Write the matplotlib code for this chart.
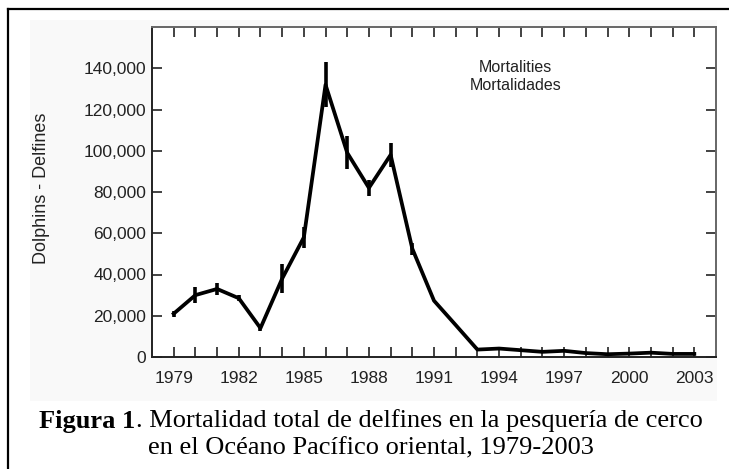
import matplotlib.pyplot as plt
from matplotlib.patches import Rectangle
from matplotlib.lines import Line2D
from matplotlib.ticker import FuncFormatter

years = list(range(1979, 2004))
mortality = [21000, 30000, 33000, 28500, 14000, 38000, 58000, 132000, 99000,
             82000, 98000, 52500, 27300, 15500, 3600, 4100, 3300, 2500, 3000,
             1900, 1350, 1650, 2100, 1500, 1500]
error = [1500, 3800, 3000, 1500, 1500, 7000, 5000, 11000, 8000, 4000, 6000,
         3000, 0, 0, 0, 0, 0, 0, 0, 0, 0, 0, 0, 0, 0]
label_years = list(range(1979, 2004, 3))

sans = ['Liberation Sans', 'DejaVu Sans']
serif = ['Liberation Serif', 'DejaVu Serif']

fig = plt.figure(figsize=(7.29, 4.69), dpi=100)
W, H = 729, 469

# faint background of the pasted chart image
fig.patches.append(Rectangle((30 / W, 1 - 401 / H), (717 - 30) / W, (401 - 20) / H,
                             transform=fig.transFigure, facecolor='#f9f9f9',
                             edgecolor='none', zorder=-5))
# outer border (top and left)
fig.lines.append(Line2D([8 / W, 1], [1 - 9 / H, 1 - 9 / H], transform=fig.transFigure,
                        color='black', lw=1.6))
fig.lines.append(Line2D([8 / W, 8 / W], [0, 1 - 9 / H], transform=fig.transFigure,
                        color='black', lw=1.6))

ax = fig.add_axes([152 / W, 1 - 357 / H, (716 - 152) / W, (357 - 27) / H])
ax.set_facecolor('white')
ax.errorbar(years, mortality, yerr=error, color='black', lw=2.7, elinewidth=2.6,
            capsize=0, zorder=3)

ax.set_xlim(1978, 2004)
ax.set_ylim(0, 160000)
ax.set_xticks(years)
ax.set_xticklabels([str(y) if y in label_years else '' for y in years])
ax.set_yticks(range(0, 160000, 20000))
ax.yaxis.set_major_formatter(FuncFormatter(lambda v, p: f'{int(v):,}'))
ax.tick_params(direction='in', length=7, width=1.2, top=True, right=True,
               labelsize=12.5, colors='#222222', pad=10)
ax.tick_params(axis='y', pad=4)
for lab in ax.get_xticklabels() + ax.get_yticklabels():
    lab.set_family(sans)
for side in ['left', 'bottom']:
    ax.spines[side].set_linewidth(1.4)
    ax.spines[side].set_color('#222222')
for side in ['top', 'right']:
    ax.spines[side].set_linewidth(1.4)
    ax.spines[side].set_color('#666666')

ax.set_ylabel('Dolphins - Delfines', family=sans, fontsize=13, color='#222222')
ax.yaxis.set_label_coords(-102 / 564, 0.51)
ax.text(0.645, 0.85, 'Mortalities\nMortalidades', transform=ax.transAxes, ha='center',
        va='center', family=sans, fontsize=11.5, color='#222222', linespacing=1.2)

# caption
fig.canvas.draw()
r = fig.canvas.get_renderer()
cap_size = 19
t1 = fig.text(0, 1 - 421 / H, 'Figura 1', family=serif, weight='bold', fontsize=cap_size,
              va='center', ha='left')
t2 = fig.text(0, 1 - 421 / H, '. Mortalidad total de delfines en la pesquería de cerco',
              family=serif, fontsize=cap_size, va='center', ha='left')
w1 = t1.get_window_extent(r).width
w2 = t2.get_window_extent(r).width
x0 = (371 - (w1 + w2) / 2) / W
t1.set_x(x0)
t2.set_x(x0 + w1 / W)
fig.text(371 / W, 1 - 448 / H, 'en el Océano Pacífico oriental, 1979-2003', family=serif,
         fontsize=cap_size, va='center', ha='center')

fig.savefig('out.png', dpi=100)
